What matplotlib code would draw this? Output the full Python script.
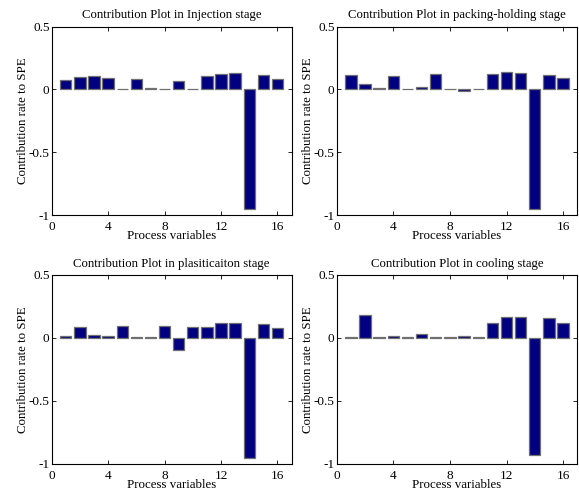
import numpy as np
import matplotlib
matplotlib.use('Agg')
import matplotlib.pyplot as plt

plt.rcParams['font.family'] = ['Liberation Serif', 'DejaVu Serif']

variables = np.arange(1, 17)

# contribution values
injection = [0.078, 0.096, 0.110, 0.094, 0.004, 0.086, 0.008, 0.004,
             0.067, 0.004, 0.107, 0.126, 0.128, -0.955, 0.112, 0.086]
packing = [0.112, 0.045, 0.008, 0.104, 0.004, 0.019, 0.123, 0.004,
           -0.012, 0.005, 0.123, 0.136, 0.128, -0.955, 0.115, 0.091]
plastic = [0.016, 0.085, 0.024, 0.016, 0.098, 0.004, 0.008, 0.098,
           -0.093, 0.090, 0.090, 0.117, 0.122, -0.952, 0.109, 0.080]
cooling = [0.011, 0.186, 0.005, 0.013, 0.004, 0.029, 0.005, 0.005,
           0.013, 0.006, 0.120, 0.165, 0.170, -0.930, 0.160, 0.122]

titles = ['Contribution Plot in Injection stage',
          'Contribution Plot in packing-holding stage',
          'Contribution Plot in plasiticaiton stage',
          'Contribution Plot in cooling stage']
series = [injection, packing, plastic, cooling]

xticks = [0, 4, 8, 12, 16]
yticks = [-1, -0.5, 0, 0.5]
yticklabels = ['-1', '-0.5', '0', '0.5']

fig = plt.figure(figsize=(5.79, 4.91), dpi=100)

# axes boxes in figure fraction [left, bottom, width, height]
boxes = [[0.0893, 0.5621, 0.4142, 0.3835],
         [0.5815, 0.5621, 0.4155, 0.3835],
         [0.0893, 0.0550, 0.4142, 0.3850],
         [0.5815, 0.0550, 0.4155, 0.3850]]

for i in range(4):
    ax = fig.add_axes(boxes[i])
    ax.bar(variables, series[i], width=0.8, color='#000080',
           edgecolor='#707070', linewidth=0.9)
    ax.set_xlim(0, 17)
    ax.set_ylim(-1, 0.5)
    ax.set_xticks(xticks)
    ax.set_yticks(yticks)
    ax.set_yticklabels(yticklabels)
    ax.tick_params(direction='in', length=3, width=0.6, top=True, right=True,
                   labelsize=9.5)
    ax.tick_params(axis='x', pad=4)
    ax.tick_params(axis='y', pad=1.5)
    for s in ax.spines.values():
        s.set_linewidth(0.8)
    ax.set_title(titles[i], fontsize=9.2, pad=6)
    ax.set_xlabel('Process variables', fontsize=9.3, labelpad=-2)
    ax.set_ylabel('Contribution rate to SPE', fontsize=9.3, labelpad=0)

fig.savefig('out.png', dpi=100)
